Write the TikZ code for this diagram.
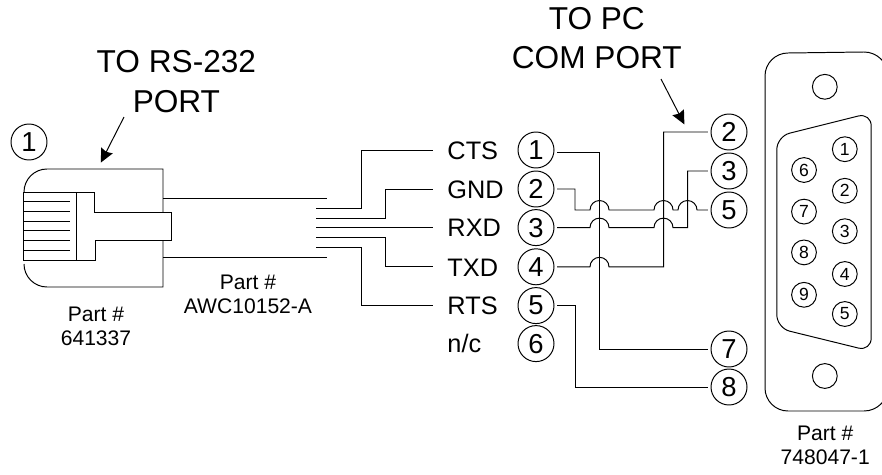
\documentclass[tikz,border=0pt]{standalone}
\usepackage{fontspec}
\setmainfont{Liberation Sans}
\usetikzlibrary{arrows.meta,positioning}
\newcommand{\hop}{arc[start angle=180,end angle=0,radius=.2375]}

\begin{document}
\begin{tikzpicture}[
    line width=.7pt,
    title/.style={font=\fontsize{22.5}{28}\selectfont,align=center,inner sep=0},
    part/.style={font=\fontsize{15}{17}\selectfont,align=center,inner sep=0},
    sig/.style={font=\fontsize{18}{20}\selectfont,anchor=west,inner xsep=.35cm,inner ysep=0,
                text height=.46cm,text depth=0pt},
    pinno/.style={draw,circle,font=\fontsize{19.5}{20}\selectfont,minimum size=.9cm,
                  inner sep=0,outer sep=.08cm},
    dbpin/.style={draw,circle,font=\fontsize{12.5}{13}\selectfont,minimum size=.62cm,inner sep=0},
    hole/.style={draw,circle,minimum size=.62cm,inner sep=0},
    wire/.style={line join=miter},
    arr/.style={-{Stealth[length=.34cm,width=.32cm,inset=.04cm]}}]
    \useasboundingbox (0,0) rectangle (22.05,11.85);

    % headings and part numbers
    \node[title] (rstitle) at (4.41,9.81)  {TO RS-232\\PORT};
    \node[title] (pctitle) at (14.92,10.9) {TO PC\\COM PORT};
    \node[part] (plugpart)  at (2.4,3.7)    {Part \#\\641337};
    \node[part] (cablepart) at (6.2,4.5)    {Part \#\\AWC10152-A};
    \node[part] (dbpart)    at (20.63,.725) {Part \#\\748047-1};

    % arrows
    \coordinate (rsfrom) at (3.1,8.925);
    \coordinate (rstip)  at (2.52,7.785);
    \coordinate (pcfrom) at (16.525,9.875);
    \coordinate (pctip)  at (17.11,8.74);
    \draw[arr] (rsfrom)--(rstip);
    \draw[arr] (pcfrom)--(pctip);

    % modular plug
    \node[draw,circle,font=\fontsize{19.5}{20}\selectfont,minimum size=.9cm,inner sep=0] (plugno) at (.725,8.3) {1};
    \draw (.6,7.05) arc[start angle=180,end angle=90,radius=.575] -- (4.075,7.625) -- (4.075,6.54);
    \draw (.6,5.25) arc[start angle=180,end angle=270,radius=.575] -- (4.075,4.675) -- (4.075,5.85);
    \draw (.575,7.05) -- (2.35,7.05) -- (2.35,6.54) -- (4.275,6.54) -- (4.275,5.85)
          -- (2.375,5.85) -- (2.375,5.34) -- (.575,5.34) -- cycle;
    \draw (1.91,7.05) -- (1.91,5.34);
    \foreach \y in {6.81,6.57,6.325,6.08,5.84,5.6}
      \draw (.575,\y) -- (1.74,\y);

    % cable jacket
    \coordinate (jacka) at (4.075,6.9);
    \coordinate (jackb) at (8.175,6.9);
    \coordinate (jackc) at (4.075,5.425);
    \coordinate (jackd) at (8.175,5.425);
    \draw (jacka)--(jackb);
    \draw (jackc)--(jackd);

    % signal names
    \node[sig] (cts) at (10.825,8.1)  {CTS};
    \node[sig] (gnd) at (10.825,7.125) {GND};
    \node[sig] (rxd) at (10.825,6.16) {RXD};
    \node[sig] (txd) at (10.825,5.18) {TXD};
    \node[sig] (rts) at (10.825,4.21) {RTS};
    \node[sig] (nc)  at (10.825,3.26) {n/c};

    \coordinate (core1) at (7.9,6.64);
    \coordinate (core2) at (7.9,6.39);
    \coordinate (core3) at (7.9,6.16);
    \coordinate (core4) at (7.9,5.91);
    \coordinate (core5) at (7.9,5.675);
    \draw[wire] (core1) -- ++(1.14,0) |- (cts.west);
    \draw[wire] (core2) -- ++(1.74,0) |- (gnd.west);
    \draw[wire] (core3) -- (rxd.west);
    \draw[wire] (core4) -- ++(1.74,0) |- (txd.west);
    \draw[wire] (core5) -- ++(1.14,0) |- (rts.west);

    % pin numbers, jack side
    \node[pinno] (p1) at (13.4,8.1)  {1};
    \node[pinno] (p2) at (13.4,7.125) {2};
    \node[pinno] (p3) at (13.4,6.16) {3};
    \node[pinno] (p4) at (13.4,5.18) {4};
    \node[pinno] (p5) at (13.4,4.21) {5};
    \node[pinno] (p6) at (13.4,3.26) {6};

    % pin numbers, DB9 side
    \node[pinno] (d2) at (18.225,8.55)  {2};
    \node[pinno] (d3) at (18.225,7.575) {3};
    \node[pinno] (d5) at (18.225,6.6)   {5};
    \node[pinno] (d7) at (18.225,3.125) {7};
    \node[pinno] (d8) at (18.225,2.175) {8};

    % crossover wiring
    \draw[wire] ([yshift=-.07cm]p1.east) -- ++(1.045,0) |- (d7.west);
    \draw[wire] (p2.east) -| (14.375,6.6) -- (14.75,6.6) \hop -- (16.35,6.6) \hop
                -- (16.95,6.6) \hop -- (d5.west);
    \draw[wire] (p3.east) -- (14.75,6.16) \hop -- (16.35,6.16) \hop -- (17.19,6.16) |- (d3.west);
    \draw[wire] (p4.east) -- (14.75,5.18) \hop -- (16.59,5.18) |- (d2.west);
    \draw[wire] (p5.east) -- ++(.445,0) |- (d8.west);

    % DB9 connector
    \draw (22.2,9.95) arc[start angle=0,end angle=90,radius=.6] -- (19.7,10.525)
          arc[start angle=90,end angle=180,radius=.575] -- (19.125,2.15)
          arc[start angle=180,end angle=270,radius=.575] -- (21.6,1.575)
          arc[start angle=270,end angle=360,radius=.6];
    \node[hole] (holetop) at (20.62,9.68) {};
    \node[hole] (holebot) at (20.62,2.45) {};
    \draw[rounded corners=.33cm] (19.42,8.44) -- (21.78,9.03) -- (21.78,3.07) -- (19.42,3.65) -- cycle;
    \node[dbpin] (db1) at (21.12,8.12) {1};
    \node[dbpin] (db2) at (21.12,7.08) {2};
    \node[dbpin] (db3) at (21.12,6.07) {3};
    \node[dbpin] (db4) at (21.12,5.0)  {4};
    \node[dbpin] (db5) at (21.12,4.0)  {5};
    \node[dbpin] (db6) at (20.1,7.6)   {6};
    \node[dbpin] (db7) at (20.1,6.56)  {7};
    \node[dbpin] (db8) at (20.1,5.54)  {8};
    \node[dbpin] (db9) at (20.1,4.48)  {9};
  \end{tikzpicture}
\end{document}
